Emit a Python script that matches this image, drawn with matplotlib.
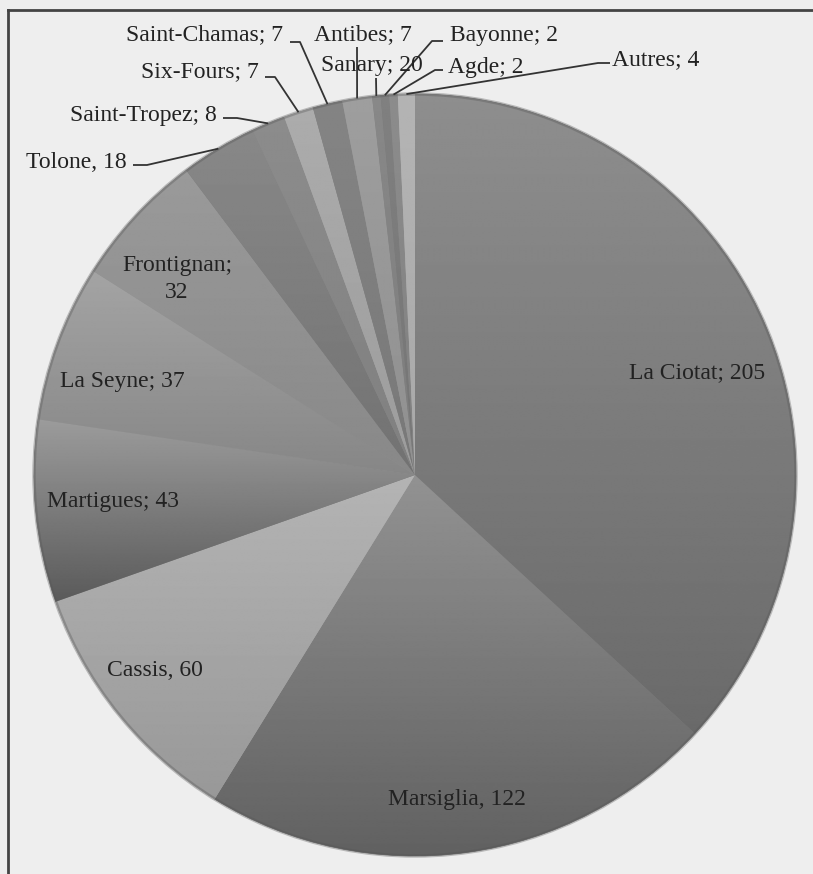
import numpy as np
import matplotlib
matplotlib.use("Agg")
import matplotlib.pyplot as plt
from matplotlib.patches import Circle

# ---- data ----
ports = ["La Ciotat", "Marsiglia", "Cassis", "Martigues", "La Seyne", "Frontignan",
         "Tolone", "Saint-Tropez", "Six-Fours", "Saint-Chamas", "Antibes", "Sanary",
         "Bayonne", "Agde", "Autres"]
ships = [205, 122, 60, 43, 37, 32, 18, 8, 7, 7, 7, 2, 2, 2, 4]
label_texts = ["La Ciotat; 205", "Marsiglia, 122", "Cassis, 60", "Martigues; 43",
               "La Seyne; 37", "Frontignan;\n32", "Tolone, 18", "Saint-Tropez; 8",
               "Six-Fours; 7", "Saint-Chamas; 7", "Antibes; 7", "Sanary; 20",
               "Bayonne; 2", "Agde; 2", "Autres; 4"]

# ---- style / layout (pixel coordinates, y downward) ----
W, H = 813, 874
CX, CY, R = 415, 475, 381
grey_top = [0x8e, 0x92, 0xb4, 0x9c, 0xa4, 0x9a, 0x88, 0x8c, 0xac, 0x84, 0x9e, 0x88, 0x80, 0x8c, 0xb4]
grey_bot = [0x6a, 0x60, 0x98, 0x5a, 0x86, 0x88, 0x72, 0x80, 0x9c, 0x78, 0x90, 0x7c, 0x74, 0x80, 0xa8]

# inside labels: (x, y, ha)
inside_pos = {
    "La Ciotat": (697, 373, "center"),
    "Marsiglia": (457, 800, "center"),
    "Cassis": (155, 670, "center"),
    "Martigues": (113, 502, "center"),
    "La Seyne": (122, 381, "center"),
    "Frontignan": (177, 279, "center"),
}
# outside labels: text (x, y, ha), leader stub start, elbow
outside_pos = {
    "Tolone": ((127, 162, "right"), (133, 165), (147, 165)),
    "Saint-Tropez": ((217, 115, "right"), (223, 118), (237, 118)),
    "Six-Fours": ((259, 72, "right"), (265, 77), (275, 77)),
    "Saint-Chamas": ((283, 35, "right"), (290, 42), (300, 42)),
    "Antibes": ((363, 35, "center"), (357, 47), (357, 47)),
    "Sanary": ((372, 66, "center"), (376, 78), (376, 78)),
    "Bayonne": ((450, 36, "left"), (443, 41), (432, 41)),
    "Agde": ((448, 68, "left"), (443, 70), (435, 70)),
    "Autres": ((612, 60, "left"), (610, 63), (598, 63)),
}

FONT = ["Liberation Serif", "DejaVu Serif"]
TXT = "#222222"
FS = 17

fig = plt.figure(figsize=(W / 100, H / 100), dpi=100, facecolor="#eeeeee")
ax = fig.add_axes([0, 0, 1, 1])
ax.set_facecolor("#eeeeee")

# y axis inverted -> counterclock in data == clockwise on screen; 270 deg == top
wedges, _ = ax.pie(ships, startangle=270, counterclock=True, center=(CX, CY),
                   radius=R, wedgeprops=dict(linewidth=0.6))

theta_mid = {}
for w, name, gt, gb in zip(wedges, ports, grey_top, grey_bot):
    g = (gt + gb) / 2 / 255
    w.set_facecolor((g, g, g))
    w.set_edgecolor((g, g, g))
    w.set_zorder(0.5)
    verts = w.get_path().vertices
    x0, y0 = verts.min(axis=0)
    x1, y1 = verts.max(axis=0)
    grad = np.linspace(gt / 255, gb / 255, 256)[:, None]
    im = ax.imshow(grad, cmap="gray", vmin=0, vmax=1, origin="upper",
                   extent=(x0 - 1, x1 + 1, y1 + 1, y0 - 1), aspect="auto",
                   interpolation="bilinear", zorder=1)
    im.set_clip_path(w)
    theta_mid[name] = np.deg2rad((w.theta1 + w.theta2) / 2)

# soft rim
ax.add_patch(Circle((CX, CY), R, facecolor="none", edgecolor="#555555",
                    linewidth=2.5, alpha=0.35, zorder=2))

# inside labels
for name, txt in zip(ports, label_texts):
    if name in inside_pos:
        x, y, ha = inside_pos[name]
        ax.text(x, y, txt, ha=ha, va="center", fontsize=FS, family=FONT,
                color=TXT, linespacing=1.4, zorder=5)

# outside labels with leader lines
for name, txt in zip(ports, label_texts):
    if name in outside_pos:
        (tx, ty, ha), p0, p1 = outside_pos[name]
        t = theta_mid[name]
        ex, ey = CX + R * np.cos(t), CY + R * np.sin(t)
        ax.plot([p0[0], p1[0], ex], [p0[1], p1[1], ey], color="#333333",
                linewidth=1.3, zorder=4, solid_capstyle="butt")
        ax.text(tx, ty, txt, ha=ha, va="center", fontsize=FS, family=FONT,
                color=TXT, zorder=5)

# frame lines of the scanned page
ax.plot([8, 8], [10, H], color="#444444", linewidth=2, zorder=3)
ax.plot([8, W], [10, 10], color="#444444", linewidth=2, zorder=3)

ax.set_xlim(0, W)
ax.set_ylim(H, 0)
ax.set_aspect("equal")
ax.axis("off")

fig.savefig("out.png", dpi=100, facecolor=fig.get_facecolor())
